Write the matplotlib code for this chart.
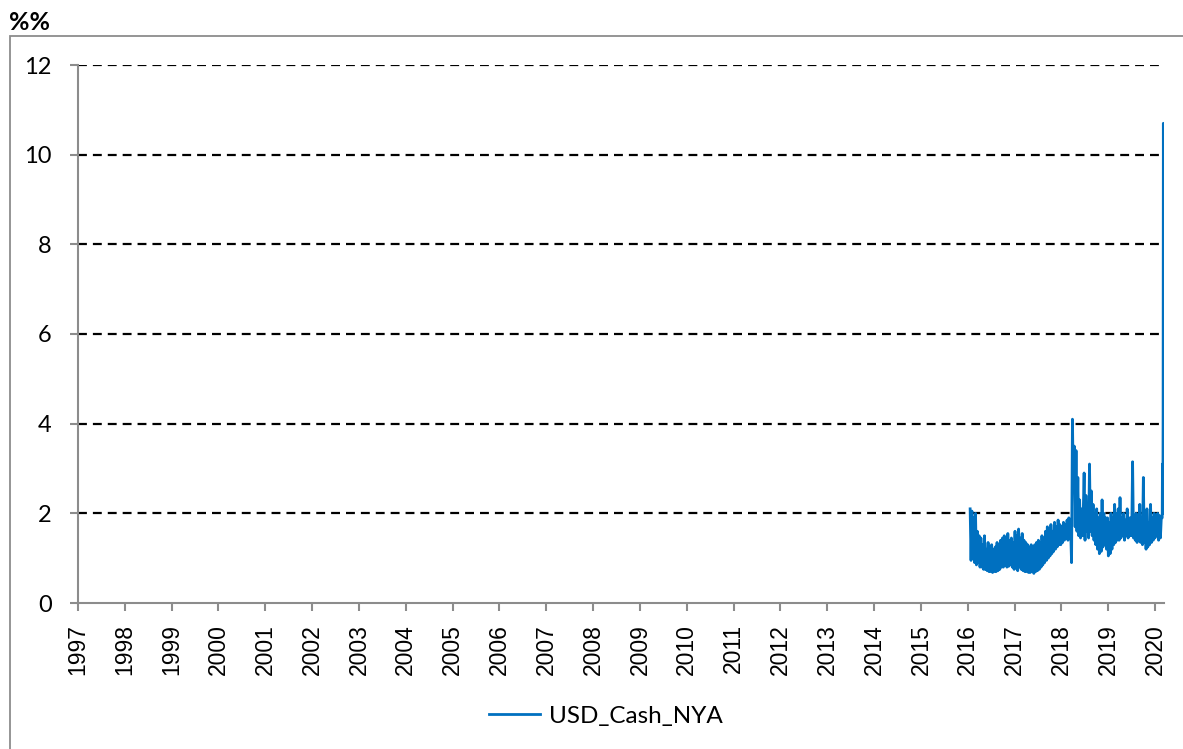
import matplotlib
matplotlib.use("Agg")
import matplotlib.pyplot as plt
import pandas as pd
from matplotlib.patches import Rectangle

series_name = "USD_Cash_NYA"
unit_label = "%%"
weekly_start = "2016-01-20"

weekly_values = [
    # 2016 Q1 (from 20 Jan)
    2.1, 0.95, 2.05, 1.0, 1.9, 0.9, 2.0, 0.85, 1.6, 0.9,
    # 2016 Q2
    1.5, 0.8, 1.45, 0.8, 1.3, 0.75, 1.5, 0.75, 1.2, 0.72, 1.35, 0.7, 1.25,
    # 2016 Q3
    0.7, 1.3, 0.68, 1.2, 0.7, 1.25, 0.7, 1.35, 0.72, 1.3, 0.75, 1.4, 0.8,
    # 2016 Q4
    1.45, 0.8, 1.5, 0.85, 1.35, 0.8, 1.55, 0.82, 1.4, 0.85, 1.45, 0.8, 1.35,
    # 2017 Q1
    0.75, 1.6, 0.78, 1.5, 0.72, 1.65, 0.8, 1.45, 0.75, 1.55, 0.72, 1.4, 0.7,
    # 2017 Q2
    1.35, 0.7, 1.3, 0.68, 1.25, 0.68, 1.3, 0.7, 1.2, 0.66, 1.3, 0.7, 1.35,
    # 2017 Q3
    0.72, 1.4, 0.75, 1.35, 0.8, 1.5, 0.85, 1.45, 0.9, 1.6, 0.95, 1.7, 1.0,
    # 2017 Q4
    1.65, 1.05, 1.75, 1.1, 1.6, 1.15, 1.8, 1.2, 1.7, 1.25, 1.85, 1.3, 1.75,
    # 2018 Q1
    1.3, 1.7, 1.35, 1.8, 1.4, 1.75, 1.45, 1.85, 1.4, 1.9, 1.5, 1.6, 0.9,
    # 2018 Q2
    4.1, 2.5, 3.5, 1.7, 3.4, 1.6, 2.8, 1.5, 2.3, 1.45, 2.1, 1.5, 2.0,
    # 2018 Q3
    2.9, 1.4, 2.4, 1.6, 2.2, 1.45, 3.1, 1.6, 2.5, 1.5, 2.2, 1.4, 2.0,
    # 2018 Q4
    1.3, 2.1, 1.2, 1.9, 1.1, 2.0, 1.15, 2.3, 1.25, 2.0, 1.3, 1.9, 1.2,
    # 2019 Q1
    1.9, 1.05, 1.8, 1.1, 2.0, 1.2, 1.9, 1.3, 2.2, 1.35, 2.0, 1.4, 2.1,
    # 2019 Q2
    1.4, 2.35, 1.45, 1.9, 1.5, 2.0, 1.4, 1.85, 1.5, 2.1, 1.45, 1.9, 1.5,
    # 2019 Q3
    1.9, 1.5, 3.15, 1.45, 1.8, 1.4, 2.0, 1.35, 1.85, 1.4, 2.2, 1.35, 1.8,
    # 2019 Q4
    1.3, 2.8, 1.35, 1.9, 1.2, 2.1, 1.25, 1.8, 1.3, 2.2, 1.35, 1.9, 1.4,
    # 2020 Q1
    2.0, 1.45, 1.9, 1.5, 2.0, 1.4, 1.95, 1.45, 1.9,
]

# final daily observations around the March 2020 spike
late_dates = ["2020-02-26", "2020-02-28", "2020-03-02", "2020-03-04", "2020-03-06", "2020-03-09"]
late_values = [1.9, 3.1, 2.0, 4.2, 10.7, 2.6]

y_ticks = [0, 2, 4, 6, 8, 10, 12]
x_start = "1997-01-01"
x_end = "2020-03-11"
years = list(range(1997, 2021))

weekly_dates = pd.date_range(weekly_start, periods=len(weekly_values), freq="7D")
dates = list(weekly_dates) + list(pd.to_datetime(late_dates))
values = weekly_values + late_values

W, H = 1183, 749
fig = plt.figure(figsize=(W / 100, H / 100), dpi=100)
fig.patch.set_facecolor("white")

# outer chart-area border
fig.add_artist(Rectangle((10 / W, -0.01), 1.2, 1 - 36 / H + 0.01, transform=fig.transFigure,
                         fill=False, edgecolor="#8c8c8c", linewidth=1.3))

left, right, top, bottom = 78, 1164, 65, 603
ax = fig.add_axes([left / W, 1 - bottom / H, (right - left) / W, (bottom - top) / H])

ax.plot(dates, values, color="#0070C0", linewidth=2.0, label=series_name, zorder=3)

ax.set_ylim(0, 12)
ax.set_yticks(y_ticks)
ax.set_xlim(pd.Timestamp(x_start), pd.Timestamp(x_end))
ax.set_xticks([pd.Timestamp(f"{y}-01-01") for y in years])
ax.set_xticklabels([str(y) for y in years], rotation=90, fontsize=16.5,
                   family=["Liberation Sans", "DejaVu Sans"])
for lab in ax.get_yticklabels():
    lab.set_fontsize(17)
    lab.set_family(["Lato", "DejaVu Sans"])

for yv in y_ticks[1:]:
    ax.axhline(yv, color="black", linestyle=(0, (4, 2.7)), linewidth=1.6, zorder=1)

for s in ["top", "right"]:
    ax.spines[s].set_visible(False)
for s in ["left", "bottom"]:
    ax.spines[s].set_color("#8c8c8c")
    ax.spines[s].set_linewidth(1.5)
ax.tick_params(axis="y", direction="out", length=6, width=1.5, color="#8c8c8c", pad=13)
ax.tick_params(axis="x", direction="out", length=6, width=1.5, color="#8c8c8c", pad=9)

fig.text(9 / W, 1 - 22 / H, unit_label, fontsize=18, fontweight="bold",
         family=["Lato", "DejaVu Sans"], va="center", ha="left")

fig.legend(loc="center", bbox_to_anchor=(606 / W, 1 - 716 / H), frameon=False,
           prop={"family": ["Lato", "DejaVu Sans"], "size": 17.5},
           handlelength=2.1, handletextpad=0.35)

fig.savefig("out.png", dpi=100)
